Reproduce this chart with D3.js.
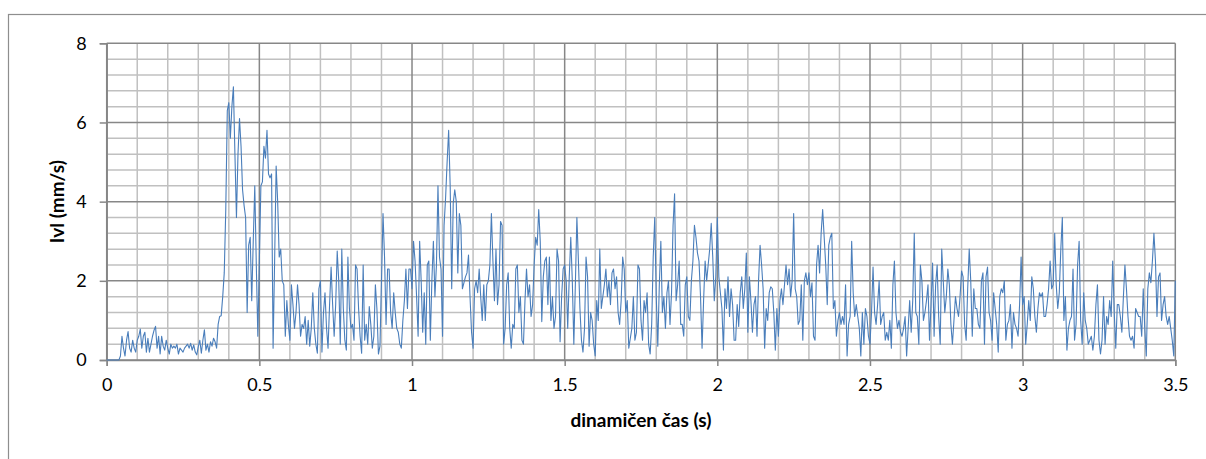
<!DOCTYPE html>
<html>
<head>
<meta charset="utf-8">
<script src="https://cdn.jsdelivr.net/npm/d3@7"></script>
<style>
  html, body { margin: 0; padding: 0; background: #ffffff; }
  svg { display: block; }
  text { font-family: Lato, "Open Sans", sans-serif; fill: #000; }
</style>
</head>
<body>
<svg id="chart" width="1206" height="459"></svg>
<script>
// Sampling interval of the measured signal (s)
const sampleStep = 0.005;

// |v| in mm/s, one value per sample, starting at t = 0
const speed = [
  0,0,0,0,0,0,0,0,0,0.1,0.6,0.3,0.1,0.5,0.72,0.3,0.2,0.5,0.3,0.2,
  0.5,0.6,0.78,0.3,0.6,0.7,0.2,0.55,0.2,0.4,0.6,0.75,0.85,0.3,0.6,0.15,0.6,0.35,0.25,0.5,
  0.3,0.15,0.4,0.3,0.35,0.3,0.4,0.15,0.3,0.25,0.2,0.3,0.35,0.4,0.3,0.42,0.25,0.38,0.2,0.13,
  0.34,0.5,0.17,0.5,0.76,0.25,0.4,0.2,0.46,0.35,0.55,0.46,0.3,0.9,1.1,1.12,1.6,2.2,3.8,6.3,
  6.5,5.6,6.4,6.9,5.2,3.6,5.2,6.1,5.4,4.3,3.9,3.6,1.2,2.9,3.1,1.5,3.0,4.4,2.4,0.6,
  2.5,4.4,4.5,5.4,5.1,5.8,4.7,4.6,4.7,0.3,2.5,4.9,4.0,2.6,2.8,2.0,1.9,0.6,1.5,0.9,
  0.5,1.9,1.4,0.8,1.2,1.9,1.4,0.6,0.9,0.8,1.1,0.4,1.0,0.35,0.8,1.7,0.8,0.4,0.17,1.8,
  2.0,0.2,1.2,1.7,0.8,0.3,1.4,2.35,1.4,0.6,1.4,2.75,2.0,0.4,2.8,1.3,0.5,0.25,2.6,1.3,
  0.8,0.9,0.5,2.4,2.3,1.3,0.6,0.17,2.4,0.5,0.9,0.4,1.35,0.9,0.3,0.6,1.9,1.3,0.15,0.35,
  2.0,3.7,2.6,0.9,2.3,2.3,1.2,0.8,1.7,1.2,0.8,0.7,0.4,0.3,1.0,1.5,2.3,1.3,2.3,2.3,
  1.8,3.0,2.5,1.6,0.6,3.0,2.0,0.7,1.7,0.4,2.4,2.5,0.5,2.0,3.0,1.6,2.4,4.4,2.6,2.3,
  0.6,3.4,4.1,5.0,5.8,4.4,1.8,3.96,4.3,4.0,2.2,3.7,3.4,1.8,1.95,2.1,2.2,2.65,1.6,0.7,
  0.3,1.8,2.0,1.7,2.3,1.6,1.0,1.9,1.0,1.9,2.0,2.4,3.7,2.5,1.5,2.8,1.4,1.9,3.5,3.4,
  0.4,0.8,1.9,2.2,0.8,0.3,0.9,0.8,2.3,2.4,1.2,1.6,0.5,0.4,1.5,2.3,1.6,1.9,1.1,1.4,
  2.4,3.1,2.9,3.8,3.0,0.97,2.1,2.5,2.6,1.4,2.6,1.0,1.6,0.8,1.1,2.8,2.5,0.46,1.6,2.3,
  2.4,2.0,0.8,2.1,3.1,2.0,0.4,1.9,3.6,2.5,1.3,0.5,0.2,0.8,2.6,2.1,0.35,1.2,1.0,0.4,
  0.1,1.5,1.0,2.8,1.3,1.6,1.9,2.3,1.6,2.0,1.4,2.2,2.3,1.8,2.1,1.2,0.9,1.5,2.6,2.3,
  1.2,1.5,0.3,0.55,0.8,1.6,0.5,0.7,2.4,2.3,1.0,0.5,1.5,1.2,1.7,0.4,0.15,0.9,2.6,3.6,
  1.6,0.35,1.9,3.0,1.2,1.6,0.8,1.7,2.0,0.9,1.7,3.4,4.2,1.5,1.9,2.5,0.9,0.9,0.6,1.9,
  2.1,1.1,1.0,2.0,2.5,3.4,3.1,2.7,2.5,1.6,0.3,1.5,2.5,2.0,2.4,2.8,3.45,2.6,1.5,2.1,
  3.6,2.1,1.7,1.3,0.25,1.8,1.3,2.1,1.1,1.8,1.4,0.5,0.5,1.4,0.85,1.7,2.1,1.3,1.8,2.7,
  0.7,2.1,1.5,0.7,1.4,1.6,0.6,2.0,2.9,2.4,1.8,0.3,1.3,1.0,1.7,1.85,1.8,1.2,0.25,1.3,
  0.6,1.5,1.8,1.4,1.9,2.4,1.9,2.3,1.6,2.0,3.7,1.8,1.6,0.9,1.0,1.9,0.5,2.0,2.2,1.9,
  2.2,1.6,1.95,0.6,0.5,2.4,2.9,2.2,3.2,3.8,3.1,2.4,1.4,2.9,3.1,3.2,1.3,1.5,0.6,1.0,
  1.2,0.9,1.1,0.9,1.9,0.1,0.9,1.1,3.0,1.7,1.1,1.4,1.1,0.8,0.1,1.2,0.4,1.3,1.1,0.6,
  0.4,1.2,2.35,1.2,0.9,1.4,2.0,0.9,1.1,1.2,0.5,0.7,0.5,1.0,0.3,1.9,2.5,1.2,0.8,1.0,
  0.7,0.6,0.8,1.1,0.1,0.8,1.5,0.7,1.5,3.2,1.2,1.1,0.4,2.4,2.0,1.0,1.2,1.5,1.9,0.5,
  1.4,2.45,0.6,1.9,2.4,1.1,0.4,2.8,2.0,1.2,1.6,2.3,1.9,0.9,0.4,1.0,1.6,1.3,1.1,1.6,
  2.25,2.1,0.9,0.5,1.8,2.8,2.0,0.6,1.8,1.3,1.3,0.9,0.8,2.0,2.2,0.4,2.1,2.35,1.2,1.0,
  0.5,1.7,1.3,0.9,0.2,1.6,1.8,1.7,2.0,0.5,0.9,1.0,1.4,0.3,1.2,0.9,0.8,0.6,1.4,2.6,
  1.4,1.6,0.4,0.9,1.5,1.0,2.1,1.8,1.1,0.7,1.3,1.7,1.6,1.7,1.1,1.1,1.4,1.8,2.5,1.8,
  1.9,3.2,1.9,1.3,1.7,2.8,3.6,1.0,1.6,0.25,0.8,1.0,1.1,2.3,0.5,0.9,2.4,3.0,1.0,0.4,
  1.7,1.0,0.8,0.4,0.5,0.6,0.25,0.6,1.4,1.9,0.5,0.15,0.5,1.6,0.4,1.1,0.9,1.5,1.1,2.5,
  1.2,0.3,1.4,1.4,1.1,0.7,1.6,2.4,1.8,1.1,0.6,0.5,0.6,0.3,1.3,1.2,1.1,1.1,0.6,1.8,
  0.8,0.1,1.8,2.2,1.95,2.5,3.2,2.5,1.1,2.1,2.2,1.0,1.4,1.6,1.1,0.9,1.1,0.8,0.5,0.1,
  2.0
];

// Axis tick values and labels
const xTicks = [0, 0.5, 1, 1.5, 2, 2.5, 3, 3.5];
const xTickLabels = ["0", "0.5", "1", "1.5", "2", "2.5", "3", "3.5"];
const yTicks = [0, 2, 4, 6, 8];
const yTickLabels = ["0", "2", "4", "6", "8"];
const xMinorStep = 0.1;
const yMinorStep = 0.4;

const xTitle = "dinamičen čas (s)";
const yTitle = "Ivl (mm/s)";

const svg = d3.select("#chart");
const W = 1206, H = 459;
const plot = { left: 106.7, right: 1175.3, top: 43.3, bottom: 360 };

const x = d3.scaleLinear().domain([0, 3.5]).range([plot.left, plot.right]);
const y = d3.scaleLinear().domain([0, 8]).range([plot.bottom, plot.top]);

const majorColor = "#878787";
const minorColor = "#c0c0c0";

// Outer chart frame
svg.append("rect")
  .attr("x", 8.5).attr("y", 14.5)
  .attr("width", W + 10).attr("height", H + 10)
  .attr("fill", "#ffffff")
  .attr("stroke", "#8e8e8e").attr("stroke-width", 1.2);

const grid = svg.append("g");

// Minor gridlines
const xMinor = d3.range(0, 35 + 1).map(k => +(k * xMinorStep).toFixed(2))
  .filter(v => !xTicks.includes(v));
const yMinor = d3.range(0, 20 + 1).map(k => +(k * yMinorStep).toFixed(2))
  .filter(v => !yTicks.includes(v));

grid.selectAll(".xminor").data(xMinor).join("line")
  .attr("x1", d => x(d)).attr("x2", d => x(d))
  .attr("y1", plot.top).attr("y2", plot.bottom)
  .attr("stroke", minorColor).attr("stroke-width", 1.5);

grid.selectAll(".yminor").data(yMinor).join("line")
  .attr("x1", plot.left).attr("x2", plot.right)
  .attr("y1", d => y(d)).attr("y2", d => y(d))
  .attr("stroke", minorColor).attr("stroke-width", 1.5);

// Major gridlines
grid.selectAll(".xmajor").data(xTicks).join("line")
  .attr("x1", d => x(d)).attr("x2", d => x(d))
  .attr("y1", plot.top).attr("y2", plot.bottom)
  .attr("stroke", majorColor).attr("stroke-width", 1.5);

grid.selectAll(".ymajor").data(yTicks).join("line")
  .attr("x1", plot.left).attr("x2", plot.right)
  .attr("y1", d => y(d)).attr("y2", d => y(d))
  .attr("stroke", majorColor).attr("stroke-width", 1.5);

// Axes
const xAxis = d3.axisBottom(x)
  .tickValues(xTicks)
  .tickFormat((d, i) => xTickLabels[i])
  .tickSize(6).tickPadding(12);
const yAxis = d3.axisLeft(y)
  .tickValues(yTicks)
  .tickFormat((d, i) => yTickLabels[i])
  .tickSize(7).tickPadding(13);

const gx = svg.append("g").attr("transform", `translate(0,${plot.bottom})`).call(xAxis);
const gy = svg.append("g").attr("transform", `translate(${plot.left},0)`).call(yAxis);

[gx, gy].forEach(g => {
  g.select(".domain").attr("stroke", majorColor).attr("stroke-width", 1.5);
  g.selectAll(".tick line").attr("stroke", majorColor).attr("stroke-width", 1.5);
  g.selectAll(".tick text")
    .attr("fill", "#000")
    .style("font-family", "Lato, 'Open Sans', sans-serif")
    .style("font-size", "18px");
});

// Signal line
const line = d3.line()
  .x((d, i) => x(i * sampleStep))
  .y(d => y(d));

svg.append("path")
  .datum(speed)
  .attr("d", line)
  .attr("fill", "none")
  .attr("stroke", "#4a7ebb")
  .attr("stroke-width", 1.1)
  .attr("stroke-linejoin", "round");

// Axis titles
svg.append("text")
  .attr("x", (plot.left + plot.right) / 2)
  .attr("y", 427)
  .attr("text-anchor", "middle")
  .style("font-size", "19px")
  .style("font-weight", "bold")
  .text(xTitle);

svg.append("text")
  .attr("transform", `translate(64,${(plot.top + plot.bottom) / 2}) rotate(-90)`)
  .attr("text-anchor", "middle")
  .style("font-size", "19px")
  .style("font-weight", "bold")
  .text(yTitle);
</script>
</body>
</html>
